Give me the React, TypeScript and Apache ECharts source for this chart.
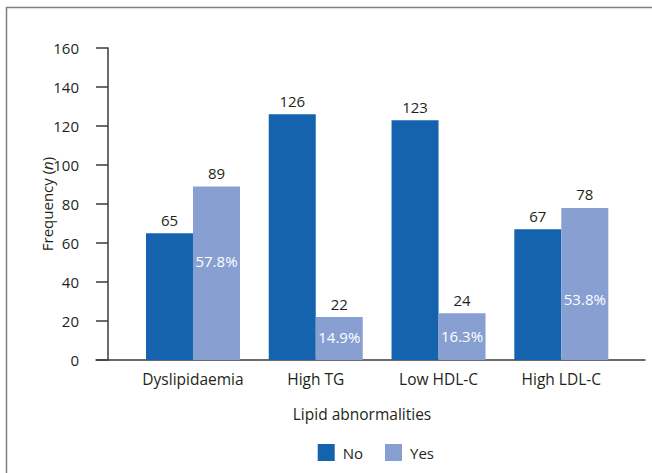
import React, { useEffect, useRef } from "react";
import * as echarts from "echarts";

const categories = ["Dyslipidaemia", "High TG", "Low HDL-C", "High LDL-C"];
const noValues = [65, 126, 123, 67];
const yesValues = [89, 22, 24, 78];
const yesPercent = ["57.8%", "14.9%", "16.3%", "53.8%"];
const legendNames = ["No", "Yes"];
const yTicks = { min: 0, max: 160, interval: 20 };

const FONT = "'Open Sans', 'Noto Sans', sans-serif";
const TEXT = "#231f20";
const AXIS = "#3a3a3a";
const NO_COLOR = "#1563ae";
const YES_COLOR = "#889fd2";
// vertical offset of the percentage label below each bar top (style only)
const pctDistance = [67, 12, 15, 84];

export default function App() {
  const ref = useRef<HTMLDivElement>(null);
  useEffect(() => {
    if (!ref.current) return;
    const chart = echarts.init(ref.current, null, { renderer: "svg" });
    const valueLabel = {
      show: true,
      position: "top",
      distance: 6,
      fontFamily: FONT,
      fontSize: 15,
      color: TEXT,
    };
    chart.setOption({
      animation: false,
      textStyle: { fontFamily: FONT },
      grid: [
        { left: 131.6, right: 29.3, top: 48, bottom: 113 },
        { left: 96, right: 7, top: 48, bottom: 113 },
      ],
      legend: {
        data: legendNames,
        left: 317.7,
        top: 444,
        padding: 0,
        itemWidth: 17,
        itemHeight: 17,
        itemGap: 22,
        icon: "rect",
        textStyle: { fontFamily: FONT, fontSize: 15, color: TEXT, padding: [0, 0, 0, 3] },
      },
      xAxis: [
        {
          type: "category",
          gridIndex: 0,
          data: categories,
          axisLine: { show: false },
          axisTick: { show: false },
          axisLabel: { fontFamily: FONT, fontSize: 15.5, color: TEXT, margin: 11, interval: 0 },
        },
        {
          type: "value",
          gridIndex: 1,
          min: 0,
          max: 1,
          axisLine: { show: true, lineStyle: { color: AXIS, width: 1.5 } },
          axisTick: { show: false },
          axisLabel: { show: false },
          splitLine: { show: false },
        },
        {
          type: "category",
          gridIndex: 0,
          data: categories,
          show: false,
        },
      ],
      yAxis: [
        {
          type: "value",
          gridIndex: 0,
          min: yTicks.min,
          max: yTicks.max,
          interval: yTicks.interval,
          offset: 23.6,
          axisLine: { show: true, lineStyle: { color: AXIS, width: 1.5 } },
          axisTick: { show: true, length: 12, lineStyle: { color: AXIS, width: 1.5 } },
          axisLabel: { fontFamily: FONT, fontSize: 15, color: TEXT, margin: 29 },
          splitLine: { show: false },
          name: "Frequency ({i|n})",
          nameLocation: "middle",
          nameRotate: 90,
          nameGap: 54,
          nameMoveOverlap: false,
          nameTextStyle: {
            fontFamily: FONT,
            fontSize: 15,
            color: TEXT,
            rich: { i: { fontFamily: FONT, fontSize: 15, color: TEXT, fontStyle: "italic" } },
          },
        },
        {
          type: "value",
          gridIndex: 1,
          min: 0,
          max: 1,
          show: false,
        },
      ],
      graphic: [
        {
          type: "rect",
          shape: { x: 6.5, y: 7.5, width: 800, height: 600 },
          style: { fill: "none", stroke: "#7f7f7f", lineWidth: 1.5 },
          silent: true,
        },
        {
          type: "text",
          style: {
            x: 362,
            y: 414,
            text: "Lipid abnormalities",
            textAlign: "center",
            textVerticalAlign: "middle",
            fontFamily: FONT,
            fontSize: 15.5,
            fill: TEXT,
          },
        },
      ],
      series: [
        {
          name: "No",
          type: "bar",
          xAxisIndex: 0,
          yAxisIndex: 0,
          barWidth: 47,
          barGap: "0%",
          itemStyle: { color: NO_COLOR },
          label: valueLabel,
          data: noValues,
        },
        {
          name: "Yes",
          type: "bar",
          xAxisIndex: 0,
          yAxisIndex: 0,
          barWidth: 47,
          barGap: "0%",
          itemStyle: { color: YES_COLOR },
          label: valueLabel,
          data: yesValues,
        },
        {
          name: "spacer",
          type: "bar",
          xAxisIndex: 2,
          yAxisIndex: 0,
          barWidth: 47,
          barGap: "0%",
          silent: true,
          itemStyle: { color: "rgba(0,0,0,0)" },
          data: noValues.map(() => null),
        },
        {
          name: "YesPct",
          type: "bar",
          xAxisIndex: 2,
          yAxisIndex: 0,
          barWidth: 47,
          barGap: "0%",
          silent: true,
          itemStyle: { color: "rgba(0,0,0,0)" },
          data: yesValues.map((v, i) => ({
            value: v,
            label: {
              show: true,
              position: "insideTop",
              distance: pctDistance[i],
              formatter: yesPercent[i],
              fontFamily: FONT,
              fontSize: 15,
              color: "#ffffff",
            },
          })),
        },
      ],
    });
    return () => chart.dispose();
  }, []);
  return (
    <div
      ref={ref}
      style={{ position: "absolute", left: 0, top: 0, width: 652, height: 473, background: "#fff" }}
    />
  );
}
